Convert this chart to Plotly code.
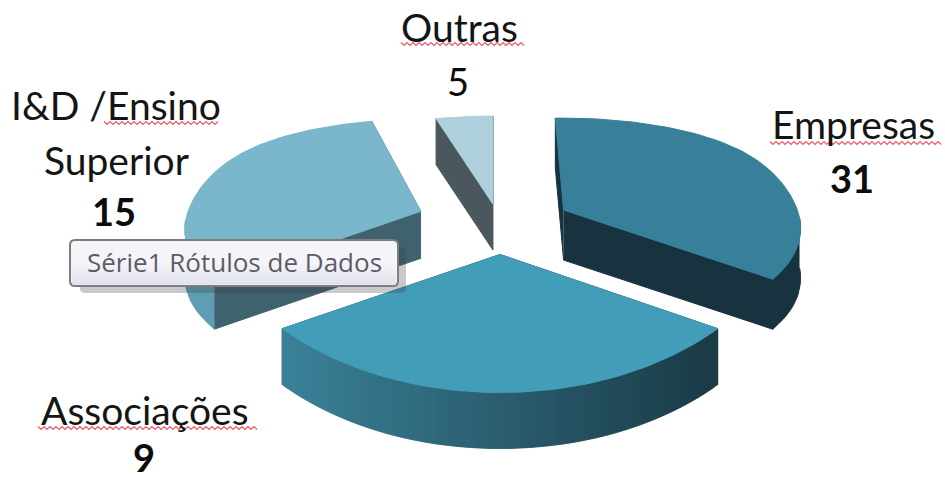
import numpy as np
import plotly.graph_objects as go

# Data as printed on the chart
categories = ["Empresas", "Associações", "I&D /Ensino<br>Superior", "Outras"]
value_labels = ["31", "9", "15", "5"]          # exactly the labels visible in the picture
value_bold = [True, True, True, False]
# Apparent slice sizes in degrees (the printed "9" label does not
# match the size of its slice, so the drawn sizes are read from the slices themselves)
slice_degrees = [120, 118, 107, 14]
slice_gaps = [3, 2, -2, 0]      # small apparent offsets between neighbouring slices
START_ANGLE = -2

# Per-slice look
radius = [237, 254, 236, 235]
pull = [75, 80, 87, 58]
back_y = [92, 92, 92, 88]
depth = [50, 56, 47, 46]
top_colors = ["#38809a", "#429db8", "#7ab6cc", "#aecfdc"]
cut_colors = ["#17333f", "#17333f", "#3f626e", "#4a585d"]
wall_left = ["#17333f", "#3a8299", "#5f9db3", "#4a585d"]
wall_right = ["#17333f", "#1a3a46", "#5f9db3", "#4a585d"]

# Projection of the tilted pie in the 945x480 canvas
CX, CY = 500, 223.5
PULL_BACK, PULL_FRONT = 27 / 80, 31 / 80
FRONT_Y, SIDE_DROP = 138, 17


def project(phi, r, by):
    s, c = np.sin(phi), np.cos(phi)
    y = SIDE_DROP * s ** 8 + (-by * c if c > 0 else FRONT_Y * abs(c) ** 1.04)
    return r * s, y


def hex_mix(a, b, t):
    ca = [int(a[i:i + 2], 16) for i in (1, 3, 5)]
    cb = [int(b[i:i + 2], 16) for i in (1, 3, 5)]
    return "rgb({},{},{})".format(*[round(p + (q - p) * t) for p, q in zip(ca, cb)])


def poly(xs, ys, color, width=1):
    return go.Scatter(x=list(xs), y=list(ys), mode="lines", fill="toself", fillcolor=color,
                      line=dict(color=color, width=width), hoverinfo="skip", showlegend=False)


fig = go.Figure()
starts, cursor = [], START_ANGLE
for deg, gap in zip(slice_degrees, slice_gaps):
    starts.append(cursor)
    cursor += deg + gap
draw_order = [3, 2, 0, 1]
BAND = 1
for i in draw_order:
    a0, a1 = np.radians(starts[i]), np.radians(starts[i] + slice_degrees[i])
    mid = (a0 + a1) / 2
    ax = CX + pull[i] * np.sin(mid)
    ay = CY - pull[i] * (PULL_BACK if np.cos(mid) > 0 else PULL_FRONT) * np.cos(mid)
    phis = np.linspace(a0, a1, max(8, int(np.degrees(a1 - a0) / 1.5)))
    pts = [project(p, radius[i], back_y[i]) for p in phis]
    xs = np.array([ax + p[0] for p in pts])
    ys = np.array([ay + p[1] for p in pts])
    d = depth[i]
    # cut faces
    fig.add_trace(poly([ax, xs[0], xs[0], ax], [ay, ys[0], ys[0] + d, ay + d], cut_colors[i]))
    fig.add_trace(poly([ax, xs[-1], xs[-1], ax], [ay, ys[-1], ys[-1] + d, ay + d], cut_colors[i]))
    # outer wall: overlapping bands so that no seams show
    vis = [j for j in range(len(phis)) if np.cos(phis[j]) < 0.1]
    lo, hi = xs.min(), xs.max()
    if vis and wall_left[i] == wall_right[i]:
        wx, wy = xs[vis], ys[vis]
        fig.add_trace(poly(np.r_[wx, wx[::-1]], np.r_[wy, wy[::-1] + d], wall_left[i]))
    elif vis:
        for s in range(0, len(vis) - 1, BAND):
            part = vis[s:s + 2 * BAND + 1]
            wx, wy = xs[part], ys[part]
            t = (xs[vis[s]] - lo) / (hi - lo)
            fig.add_trace(poly(np.r_[wx, wx[::-1]], np.r_[wy, wy[::-1] + d],
                               hex_mix(wall_left[i], wall_right[i], t), width=0.5))
    # top face
    fig.add_trace(poly(np.r_[ax, xs, ax], np.r_[ay, ys, ay], top_colors[i]))

# Spell-check squiggles under the flagged words
squiggles = [(401, 525, 44), (104, 218, 123), (770, 942, 143), (38, 258, 428)]
for x0, x1, y in squiggles:
    zx = np.arange(x0, x1 + 1, 3)
    zy = y + np.where(np.arange(len(zx)) % 2 == 0, -1.5, 1.5)
    fig.add_trace(go.Scatter(x=zx, y=zy, mode="lines", line=dict(color="#ee5a68", width=1.2),
                             hoverinfo="skip", showlegend=False))

FONT = "Lato, Carlito, Calibri, sans-serif"
label_pos = [[(853, 124)], [(145, 410)], [(116, 105), (116, 160)], [(459, 27)]]
value_pos = [(852, 178), (144, 457), (114, 211), (458, 81)]
annotations = []
for name, val, bold, lps, vp in zip(categories, value_labels, value_bold, label_pos, value_pos):
    for line, lp in zip(name.split("<br>"), lps):
        annotations.append(dict(x=lp[0], y=lp[1], text=line, showarrow=False, xanchor="center",
                                yanchor="middle", font=dict(family=FONT, size=39, color="#151515")))
    annotations.append(dict(x=vp[0], y=vp[1], text=f"<b>{val}</b>" if bold else val, showarrow=False,
                            xanchor="center", yanchor="middle",
                            font=dict(family=FONT, size=38, color="#0c0c0c")))
annotations.append(dict(x=234, y=262, text="Série1 Rótulos de Dados", showarrow=False,
                        xanchor="center", yanchor="middle",
                        font=dict(family="Open Sans, sans-serif", size=26, color="#5c5c66")))


def rounded(x0, y0, x1, y1, r):
    return (f"M{x0 + r},{y0} L{x1 - r},{y0} Q{x1},{y0} {x1},{y0 + r} L{x1},{y1 - r} Q{x1},{y1} {x1 - r},{y1} "
            f"L{x0 + r},{y1} Q{x0},{y1} {x0},{y1 - r} L{x0},{y0 + r} Q{x0},{y0} {x0 + r},{y0} Z")


shapes = [
    dict(type="path", path=rounded(80, 247, 406, 293, 5), fillcolor="rgba(60,60,60,0.28)",
         line=dict(width=0), layer="above"),
    dict(type="path", path=rounded(70, 240, 398, 286, 5), fillcolor="#f4f4f9",
         line=dict(color="#7d7d7d", width=2), layer="above"),
]
for k in range(8):
    shapes.append(dict(type="rect", x0=72, x1=396, y0=262 + k * 2.8, y1=262 + (k + 1) * 2.8,
                       fillcolor=hex_mix("#f4f4f9", "#e2e2ee", k / 7), line=dict(width=0), layer="above"))

fig.update_layout(
    width=945, height=480, margin=dict(l=0, r=0, t=0, b=0),
    paper_bgcolor="white", plot_bgcolor="white", showlegend=False,
    xaxis=dict(range=[0, 945], visible=False, fixedrange=True),
    yaxis=dict(range=[480, 0], visible=False, fixedrange=True),
    annotations=annotations, shapes=shapes,
)
fig.write_html("out.html", config=dict(displayModeBar=False),
               post_script="document.body.style.margin='0';document.body.style.overflow='hidden';")
